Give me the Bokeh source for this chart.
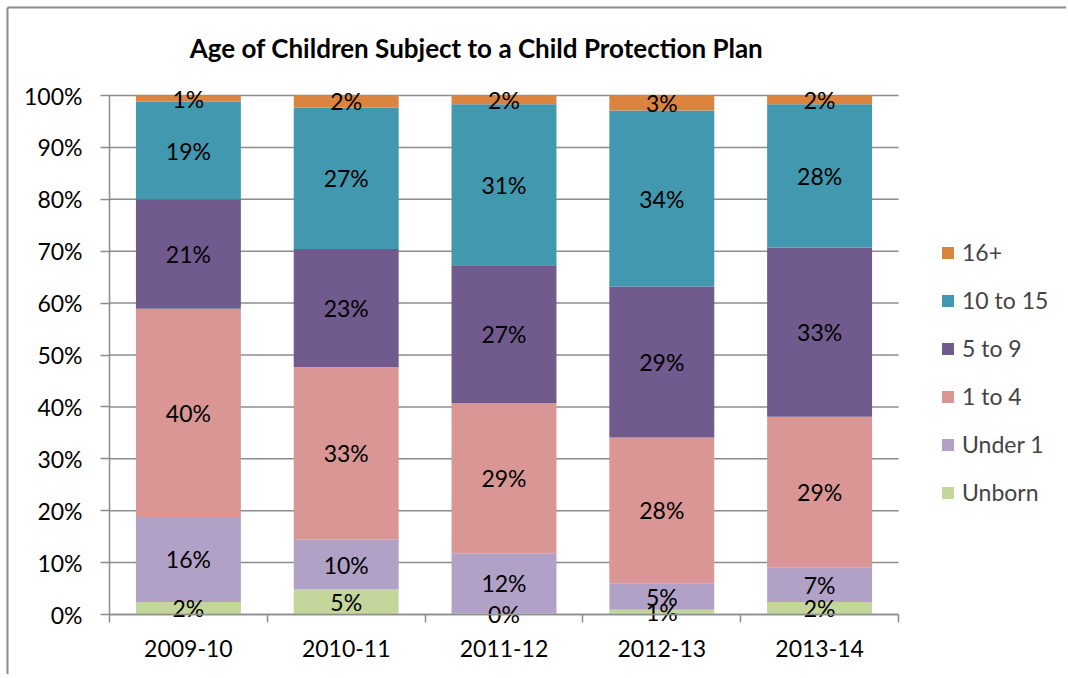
from bokeh.plotting import figure
from bokeh.models import (ColumnDataSource, FixedTicker, NumeralTickFormatter,
                          Legend, LegendItem, Label)
from bokeh.core.properties import value
from bokeh.embed import file_html
from bokeh.resources import INLINE

years = ["2009-10", "2010-11", "2011-12", "2012-13", "2013-14"]
series = ["Unborn", "Under 1", "1 to 4", "5 to 9", "10 to 15", "16+"]
unborn = [2.4, 4.8, 0.2, 0.9, 2.4]
under1 = [16.4, 9.6, 11.6, 5.1, 6.7]
one_to_4 = [40.1, 33.3, 28.9, 28.1, 29.0]
five_to_9 = [21.1, 22.7, 26.6, 29.1, 32.6]
ten_to_15 = [18.8, 27.3, 31.0, 33.9, 27.6]
sixteen_plus = [1.2, 2.3, 1.7, 2.9, 1.7]
colors = ["#C3D69B", "#B2A1C7", "#D99694", "#705A8E", "#4298AF", "#DB8440"]
y_ticks = [0, 0.1, 0.2, 0.3, 0.4, 0.5, 0.6, 0.7, 0.8, 0.9, 1.0]
title = "Age of Children Subject to a Child Protection Plan"

FONT = "Lato"
GRAY = "#8c8c8c"

vals = [unborn, under1, one_to_4, five_to_9, ten_to_15, sixteen_plus]
n = len(years)
xs = [i + 0.5 for i in range(n)]
totals = [sum(v[i] for v in vals) for i in range(n)]
data = {"x": xs}
for name, v in zip(series, vals):
    data[name] = [v[i] / totals[i] for i in range(n)]
src = ColumnDataSource(data)

W, H = 1066, 674
PL, PR, PT, PB = 109, 898, 95, 614  # plot area in page pixels
ux = (PR - PL) / n
uy = (PB - PT) / 1.0


def dx(px):
    return (px - PL) / ux


def dy(py):
    return (PB - py) / uy


p = figure(width=W, height=H, x_range=(dx(0), dx(W)), y_range=(dy(H), dy(0)),
           output_backend="svg", toolbar_location=None, min_border=0)
p.outline_line_color = None
p.background_fill_color = "white"
p.border_fill_color = "white"
p.xgrid.visible = False
p.ygrid.visible = False

# outer chart-area border (only its left and top edges fall inside the window)
p.segment(x0=[dx(7), dx(7)], y0=[dy(7), dy(7)], x1=[dx(W), dx(7)], y1=[dy(7), dy(H)],
          line_color="#8a8a8a", line_width=2)

p.segment(x0=[0] * len(y_ticks), x1=[n] * len(y_ticks), y0=y_ticks, y1=y_ticks,
          line_color=GRAY, line_width=1.5)

renderers = p.vbar_stack(series, x="x", width=0.665, source=src,
                         color=colors, line_color=None)

lx, ly, lt = [], [], []
for i in range(n):
    base = 0.0
    for name in series:
        f = data[name][i]
        lx.append(xs[i])
        ly.append(base + f / 2)
        lt.append(f"{round(f * 100)}%")
        base += f
p.text(x=lx, y=ly, text=lt, text_align="center", text_baseline="middle",
       text_font=value(FONT), text_font_size="23px", text_color="black")

xa = p.xaxis[0]
xa.fixed_location = 0
xa.bounds = (0, n)
xa.ticker = FixedTicker(ticks=xs, minor_ticks=list(range(n + 1)))
xa.major_label_overrides = {x: y for x, y in zip(xs, years)}
xa.major_tick_out = 0
xa.major_tick_in = 0
xa.minor_tick_out = 8
xa.minor_tick_in = 0
xa.minor_tick_line_color = GRAY
xa.minor_tick_line_width = 1.5
xa.axis_line_color = GRAY
xa.axis_line_width = 1.5
xa.major_label_text_font = FONT
xa.major_label_text_font_size = "23px"
xa.major_label_text_color = "black"
xa.major_label_standoff = 17

ya = p.yaxis[0]
ya.fixed_location = 0
ya.bounds = (0, 1)
ya.ticker = FixedTicker(ticks=y_ticks)
ya.formatter = NumeralTickFormatter(format="0%")
ya.major_tick_out = 9
ya.major_tick_in = 0
ya.minor_tick_out = 0
ya.minor_tick_in = 0
ya.major_tick_line_color = GRAY
ya.major_tick_line_width = 1.5
ya.axis_line_color = GRAY
ya.axis_line_width = 1.5
ya.major_label_text_font = FONT
ya.major_label_text_font_size = "23px"
ya.major_label_text_color = "black"
ya.major_label_standoff = 18

p.add_layout(Label(x=dx(476), y=dy(47), text=title,
                   text_align="center", text_baseline="middle",
                   text_font=FONT, text_font_size="26px", text_font_style="bold",
                   text_color="black"))

items = [LegendItem(label=series[k], renderers=[renderers[k]]) for k in reversed(range(len(series)))]
legend = Legend(items=items, location=(940, H - 506), padding=0, margin=0,
                glyph_width=15, glyph_height=15, label_standoff=7,
                label_text_font=FONT, label_text_font_size="23px",
                label_height=24, spacing=20,
                border_line_color=None, background_fill_alpha=0)
p.add_layout(legend)

open("out.html", "w").write(file_html(p, INLINE))
